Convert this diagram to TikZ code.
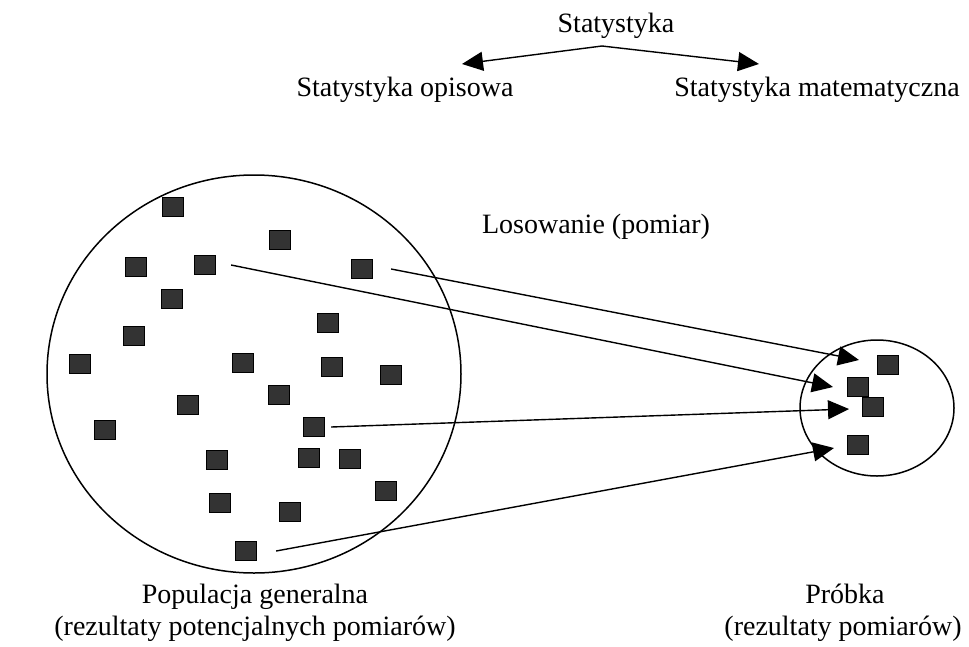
\documentclass[tikz,border=0pt]{standalone}
\usepackage{fontspec}
\setmainfont{Liberation Serif}
\usetikzlibrary{arrows.meta}
\definecolor{sqfill}{HTML}{333333}
\begin{document}
\begin{tikzpicture}[x=1pt,y=-1pt,
  lbl/.style={anchor=base,inner sep=0pt,font=\fontsize{28}{32}\selectfont},
  sq/.style={draw=black,line width=1.2pt,fill=sqfill,minimum width=21pt,minimum height=19pt,inner sep=0pt},
  ring/.style={draw=black,line width=1.5pt},
  conn/.style={line width=1.4pt,-{Triangle[length=21pt,width=19pt]}}]
\useasboundingbox (0,0) rectangle (969,646);
% top texts
\node[lbl] (stat) at (616,32) {Statystyka};
\node[lbl] (opis) at (405,96) {Statystyka opisowa};
\node[lbl] (mat) at (817,96) {Statystyka matematyczna};
\node[lbl] (los) at (596,233) {Losowanie (pomiar)};
\node[lbl] (pop1) at (255,603) {Populacja generalna};
\node[lbl] (pop2) at (255,635) {(rezultaty potencjalnych pomiarów)};
\node[lbl] (pr1) at (845,603) {Próbka};
\node[lbl] (pr2) at (843,635) {(rezultaty pomiarów)};
% top arrows
\coordinate (apex) at (602,46);
\coordinate (tipL) at (462,64);
\coordinate (tipR) at (759,64);
\draw[conn] (apex) -- (tipL);
\draw[conn] (apex) -- (tipR);
% circles
\draw[ring] (254,374) ellipse [x radius=207, y radius=199];
\draw[ring] (877,408) ellipse [x radius=77, y radius=68];
% population squares
\foreach \n/\x/\y in {1/173/207, 2/280/240, 3/136/267, 4/205/265, 5/362/269,
  6/172/299, 7/328/323, 8/134/336, 9/80/364, 10/243/363, 11/332/367,
  12/391/375, 13/279/395, 14/188/405, 15/105/430, 16/314/427, 17/217/460,
  18/309/458, 19/350/459, 20/386/491, 21/220/503, 22/290/512, 23/246/551}
  \node[sq] (p\n) at (\x,\y) {};
% sample squares
\node[sq] (s1) at (888,365) {};
\node[sq] (s2) at (858,387) {};
\node[sq] (s3) at (873,407) {};
\node[sq] (s4) at (858,445) {};
% sampling arrows
\coordinate (a1) at ([xshift=15pt]p4.east);
\coordinate (a2) at ([xshift=18pt]p5.east);
\coordinate (a3) at ([xshift=6pt]p16.east);
\coordinate (a4) at ([xshift=19pt]p23.east);
\coordinate (t1) at (833,387);
\coordinate (t2) at (859,360);
\coordinate (t3) at (849,409);
\coordinate (t4) at (834,448);
\draw[conn] (a1) -- (t1);
\draw[conn] (a2) -- (t2);
\draw[conn] (a3) -- (t3);
\draw[conn] (a4) -- (t4);
\end{tikzpicture}
\end{document}
